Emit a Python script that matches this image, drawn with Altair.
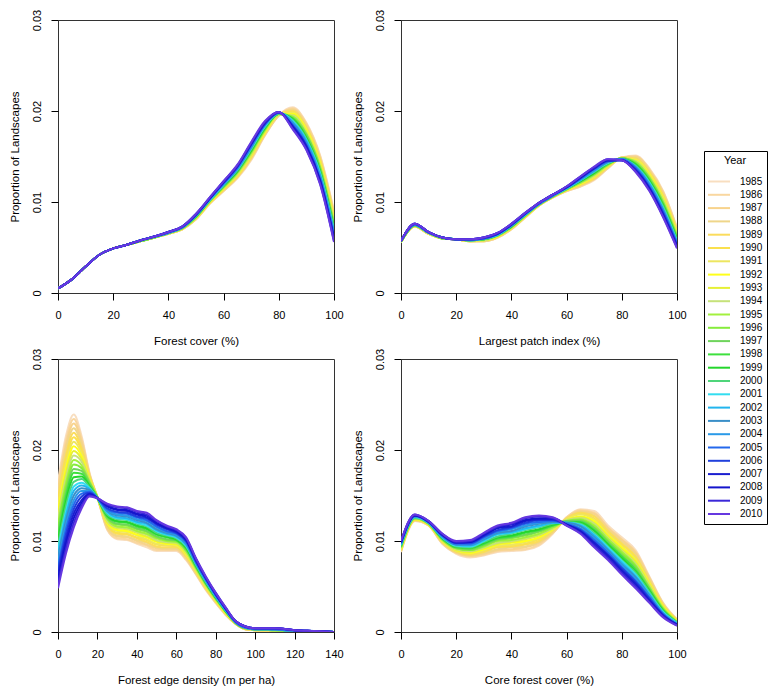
import altair as alt
import pandas as pd

YEARS = ["1985", "1986", "1987", "1988", "1989", "1990", "1991", "1992", "1993",
         "1994", "1995", "1996", "1997", "1998", "1999", "2000", "2001", "2002",
         "2003", "2004", "2005", "2006", "2007", "2008", "2009", "2010"]
COLORS = ["#F8DEC0", "#F9D7A0", "#F8D38C", "#EFD68A", "#FBDC5C", "#FAE04E",
          "#EDE660", "#FFFF1A", "#E6F035", "#C6E27A", "#A3F03E", "#86EC3C",
          "#6FD45C", "#3DE03D", "#24D62C", "#4FD57A", "#33DDF0", "#22B5EE",
          "#3A8FC8", "#2A9AE8", "#2468EC", "#2040DC", "#1A1ED0", "#1414CC",
          "#3A28D8", "#6638E0"]
Y_TICKS = [0, 0.01, 0.02, 0.03]
X_TICKS_100 = [0, 20, 40, 60, 80, 100]
X_TICKS_140 = [0, 20, 40, 60, 80, 100, 120, 140]

# density values in units of 1e-4, one list per x position, one value per year (1985..2010)
FOREST_COVER = {
    0: [5, 5, 5, 5, 5, 5, 5, 5, 5, 5, 5, 5, 5, 5, 5, 5, 5, 5, 5, 5, 5, 5, 5, 5, 5, 5],
    5: [15, 15, 15, 15, 15, 15, 15, 15, 15, 15, 15, 15, 15, 15, 15, 15, 15, 15, 15, 15, 15, 15, 15, 15, 15, 15],
    10: [29, 29, 29, 29, 29, 29, 29, 29, 29, 29, 29, 29, 29, 29, 29, 29, 29, 29, 29, 29, 29, 29, 29, 29, 29, 29],
    15: [42, 42, 42, 42, 42, 42, 42, 42, 42, 42, 42, 42, 42, 42, 42, 42, 42, 42, 42, 42, 42, 42, 42, 42, 42, 42],
    20: [49, 49, 49, 49, 49, 49, 49, 49, 49, 49, 49, 49, 49, 49, 49, 49, 49, 49, 49, 49, 49, 49, 49, 49, 49, 49],
    25: [53, 53, 53, 53, 53, 53, 53, 53, 53, 53, 53, 53, 53, 53, 53, 53, 53, 53, 53, 53, 53, 53, 53, 53, 53, 53],
    30: [57, 57, 57, 57, 57, 57, 57, 57, 57, 57, 57, 57, 57, 58, 58, 58, 58, 58, 58, 58, 58, 58, 58, 58, 58, 58],
    35: [61, 61, 61, 61, 61, 61, 61, 61, 61, 61, 61, 61, 61, 62, 62, 62, 62, 62, 62, 62, 62, 62, 62, 62, 62, 62],
    40: [65, 65, 65, 65, 65, 65, 65, 66, 66, 66, 66, 66, 66, 66, 66, 66, 66, 66, 66, 67, 67, 67, 67, 67, 67, 67],
    45: [70, 70, 70, 70, 70, 71, 71, 71, 71, 71, 71, 71, 71, 72, 72, 72, 72, 72, 72, 72, 72, 73, 73, 73, 73, 73],
    50: [81, 81, 81, 82, 82, 82, 82, 83, 83, 83, 83, 84, 84, 84, 84, 85, 85, 85, 85, 86, 86, 86, 86, 87, 87, 87],
    55: [98, 98, 99, 99, 99, 99, 100, 100, 100, 101, 101, 101, 101, 102, 102, 102, 102, 103, 103, 103, 104, 104, 104, 104, 105, 105],
    60: [112, 112, 113, 113, 114, 114, 115, 115, 116, 116, 116, 117, 117, 118, 118, 119, 119, 119, 120, 120, 121, 121, 122, 122, 123, 123],
    65: [126, 127, 127, 128, 128, 129, 130, 130, 131, 131, 132, 133, 133, 134, 134, 135, 136, 136, 137, 137, 138, 139, 139, 140, 140, 141],
    70: [146, 147, 148, 148, 149, 150, 151, 152, 152, 153, 154, 155, 156, 156, 157, 158, 159, 160, 160, 161, 162, 163, 164, 164, 165, 166],
    75: [173, 174, 174, 175, 176, 176, 177, 177, 178, 179, 179, 180, 181, 181, 182, 183, 183, 184, 185, 185, 186, 186, 187, 188, 188, 189],
    80: [195, 195, 195, 195, 196, 196, 196, 196, 196, 196, 197, 197, 197, 197, 197, 197, 198, 198, 198, 198, 198, 198, 199, 199, 199, 199],
    85: [204, 203, 202, 201, 200, 199, 198, 197, 196, 195, 194, 193, 192, 192, 191, 190, 189, 188, 187, 186, 185, 184, 183, 182, 181, 180],
    90: [187, 186, 185, 183, 182, 181, 180, 179, 177, 176, 175, 174, 173, 171, 170, 169, 168, 167, 165, 164, 163, 162, 161, 159, 158, 157],
    95: [151, 150, 148, 147, 146, 145, 143, 142, 141, 139, 138, 137, 136, 134, 133, 132, 131, 129, 128, 127, 125, 124, 123, 122, 120, 119],
    100: [90, 89, 87, 86, 85, 83, 82, 80, 79, 78, 76, 75, 74, 72, 71, 70, 68, 67, 66, 64, 63, 61, 60, 59, 57, 56],
}

LARGEST_PATCH = {
    0: [56, 56, 56, 56, 56, 56, 56, 56, 56, 56, 56, 56, 56, 57, 57, 57, 57, 57, 57, 57, 57, 57, 57, 57, 57, 57],
    5: [73, 73, 73, 73, 73, 74, 74, 74, 74, 74, 74, 74, 74, 75, 75, 75, 75, 75, 75, 75, 75, 76, 76, 76, 76, 76],
    10: [65, 65, 65, 65, 65, 65, 65, 66, 66, 66, 66, 66, 66, 66, 66, 66, 66, 66, 66, 67, 67, 67, 67, 67, 67, 67],
    15: [60, 60, 60, 60, 60, 60, 60, 60, 60, 60, 60, 60, 60, 61, 61, 61, 61, 61, 61, 61, 61, 61, 61, 61, 61, 61],
    20: [59, 59, 59, 59, 59, 59, 59, 59, 59, 59, 59, 59, 59, 59, 59, 59, 59, 59, 59, 59, 59, 59, 59, 59, 59, 59],
    25: [57, 57, 57, 57, 57, 57, 57, 58, 58, 58, 58, 58, 58, 58, 58, 58, 58, 58, 58, 59, 59, 59, 59, 59, 59, 59],
    30: [57, 57, 57, 57, 58, 58, 58, 58, 58, 58, 59, 59, 59, 59, 59, 59, 60, 60, 60, 60, 60, 60, 61, 61, 61, 61],
    35: [61, 61, 61, 62, 62, 62, 62, 62, 63, 63, 63, 63, 63, 64, 64, 64, 64, 64, 65, 65, 65, 65, 65, 66, 66, 66],
    40: [70, 70, 70, 71, 71, 71, 71, 72, 72, 72, 72, 73, 73, 73, 73, 74, 74, 74, 74, 75, 75, 75, 75, 76, 76, 76],
    45: [83, 83, 83, 84, 84, 84, 84, 84, 85, 85, 85, 85, 85, 86, 86, 86, 86, 86, 87, 87, 87, 87, 87, 88, 88, 88],
    50: [96, 96, 96, 96, 96, 97, 97, 97, 97, 97, 97, 97, 97, 98, 98, 98, 98, 98, 98, 98, 98, 99, 99, 99, 99, 99],
    55: [105, 105, 105, 105, 105, 106, 106, 106, 106, 106, 106, 106, 106, 107, 107, 107, 107, 107, 107, 107, 107, 108, 108, 108, 108, 108],
    60: [112, 112, 112, 113, 113, 113, 113, 113, 114, 114, 114, 114, 114, 115, 115, 115, 115, 115, 116, 116, 116, 116, 116, 117, 117, 117],
    65: [117, 117, 118, 118, 119, 119, 120, 120, 121, 121, 121, 122, 122, 123, 123, 124, 124, 124, 125, 125, 126, 126, 127, 127, 128, 128],
    70: [124, 125, 125, 126, 126, 127, 128, 128, 129, 129, 130, 131, 131, 132, 132, 133, 134, 134, 135, 135, 136, 137, 137, 138, 138, 139],
    75: [137, 137, 138, 138, 139, 139, 139, 140, 140, 141, 141, 141, 142, 142, 143, 143, 143, 144, 144, 145, 145, 145, 146, 146, 147, 147],
    80: [149, 149, 149, 149, 149, 148, 148, 148, 148, 148, 148, 148, 148, 147, 147, 147, 147, 147, 147, 147, 147, 146, 146, 146, 146, 146],
    85: [151, 150, 150, 149, 148, 147, 147, 146, 145, 145, 144, 143, 142, 142, 141, 140, 139, 139, 138, 137, 137, 136, 135, 134, 134, 133],
    90: [137, 136, 135, 134, 133, 132, 131, 130, 129, 128, 127, 126, 125, 124, 123, 122, 121, 120, 119, 118, 117, 116, 115, 114, 113, 112],
    95: [112, 111, 110, 109, 107, 106, 105, 104, 103, 102, 100, 99, 98, 97, 96, 95, 93, 92, 91, 90, 89, 88, 86, 85, 84, 83],
    100: [72, 71, 70, 69, 68, 67, 66, 66, 65, 64, 63, 62, 61, 60, 59, 58, 57, 56, 55, 55, 54, 53, 52, 51, 50, 49],
}

EDGE_DENSITY = {
    0: [165, 160, 156, 151, 146, 142, 137, 132, 128, 123, 118, 114, 109, 104, 99, 95, 90, 85, 81, 76, 71, 67, 62, 57, 53, 48],
    4: [215, 210, 205, 200, 194, 189, 184, 179, 174, 169, 163, 158, 153, 148, 143, 138, 132, 127, 122, 117, 112, 107, 101, 96, 91, 86],
    8: [239, 234, 229, 224, 219, 214, 209, 204, 199, 194, 189, 184, 179, 175, 170, 165, 160, 155, 150, 145, 140, 135, 130, 125, 120, 115],
    12: [215, 212, 209, 206, 202, 199, 196, 193, 190, 187, 183, 180, 177, 174, 171, 168, 164, 161, 158, 155, 152, 149, 145, 142, 139, 136],
    16: [175, 174, 173, 172, 171, 170, 169, 168, 167, 166, 165, 164, 163, 161, 160, 159, 158, 157, 156, 155, 154, 153, 152, 151, 150, 149],
    20: [148, 148, 148, 148, 148, 148, 148, 148, 148, 148, 148, 148, 148, 147, 147, 147, 147, 147, 147, 147, 147, 147, 147, 147, 147, 147],
    25: [112, 113, 114, 115, 117, 118, 119, 120, 121, 122, 124, 125, 126, 127, 128, 129, 131, 132, 133, 134, 135, 136, 138, 139, 140, 141],
    30: [102, 103, 105, 106, 108, 109, 111, 112, 114, 115, 116, 118, 119, 121, 122, 124, 125, 126, 128, 129, 131, 132, 134, 135, 137, 138],
    35: [101, 102, 104, 105, 107, 108, 110, 111, 113, 114, 115, 117, 118, 120, 121, 123, 124, 125, 127, 128, 130, 131, 133, 134, 136, 137],
    40: [97, 98, 100, 101, 103, 104, 106, 107, 109, 110, 111, 113, 114, 116, 117, 119, 120, 121, 123, 124, 126, 127, 129, 130, 132, 133],
    45: [93, 95, 96, 98, 99, 101, 102, 104, 105, 107, 108, 110, 111, 113, 114, 116, 117, 119, 120, 122, 123, 125, 126, 128, 129, 131],
    50: [89, 90, 92, 93, 94, 96, 97, 99, 100, 101, 103, 104, 105, 107, 108, 109, 111, 112, 113, 115, 116, 118, 119, 120, 122, 123],
    55: [89, 90, 91, 92, 93, 95, 96, 97, 98, 99, 100, 101, 102, 104, 105, 106, 107, 108, 109, 110, 111, 113, 114, 115, 116, 117],
    60: [89, 90, 91, 92, 93, 94, 95, 96, 97, 98, 99, 100, 101, 101, 102, 103, 104, 105, 106, 107, 108, 109, 110, 111, 112, 113],
    65: [79, 80, 81, 82, 83, 84, 85, 86, 87, 88, 89, 90, 91, 92, 93, 94, 95, 96, 97, 98, 99, 100, 101, 102, 103, 104],
    70: [63, 64, 64, 65, 66, 67, 67, 68, 69, 69, 70, 71, 72, 72, 73, 74, 75, 75, 76, 77, 77, 78, 79, 80, 80, 81],
    75: [46, 47, 47, 48, 48, 49, 50, 50, 51, 51, 52, 53, 53, 54, 54, 55, 56, 56, 57, 57, 58, 59, 59, 60, 60, 61],
    80: [32, 32, 33, 33, 34, 34, 35, 35, 36, 36, 36, 37, 37, 38, 38, 39, 39, 39, 40, 40, 41, 41, 42, 42, 43, 43],
    85: [19, 19, 20, 20, 20, 21, 21, 21, 22, 22, 22, 23, 23, 23, 23, 24, 24, 24, 25, 25, 25, 26, 26, 26, 27, 27],
    90: [9, 9, 9, 9, 9, 10, 10, 10, 10, 10, 10, 10, 10, 11, 11, 11, 11, 11, 11, 11, 11, 12, 12, 12, 12, 12],
    95: [3, 3, 3, 3, 3, 4, 4, 4, 4, 4, 4, 4, 4, 5, 5, 5, 5, 5, 5, 5, 5, 6, 6, 6, 6, 6],
    100: [2, 2, 2, 2, 2, 2, 2, 3, 3, 3, 3, 3, 3, 3, 3, 3, 3, 3, 3, 4, 4, 4, 4, 4, 4, 4],
    110: [1, 1, 1, 1, 1, 2, 2, 2, 2, 2, 2, 2, 2, 3, 3, 3, 3, 3, 3, 3, 3, 4, 4, 4, 4, 4],
    120: [0, 0, 0, 0, 0, 0, 0, 1, 1, 1, 1, 1, 1, 1, 1, 1, 1, 1, 1, 2, 2, 2, 2, 2, 2, 2],
    130: [0, 0, 0, 0, 0, 0, 0, 0, 0, 0, 0, 0, 0, 1, 1, 1, 1, 1, 1, 1, 1, 1, 1, 1, 1, 1],
    140: [0, 0, 0, 0, 0, 0, 0, 0, 0, 0, 0, 0, 0, 0, 0, 0, 0, 0, 0, 0, 0, 0, 0, 0, 0, 0],
}

CORE_FOREST = {
    0: [88, 88, 89, 89, 90, 90, 91, 91, 92, 92, 93, 93, 94, 94, 95, 95, 96, 96, 97, 97, 98, 98, 99, 99, 100, 100],
    5: [122, 122, 123, 123, 123, 123, 124, 124, 124, 125, 125, 125, 125, 126, 126, 126, 126, 127, 127, 127, 128, 128, 128, 128, 129, 129],
    10: [117, 117, 117, 118, 118, 118, 118, 118, 119, 119, 119, 119, 119, 120, 120, 120, 120, 120, 121, 121, 121, 121, 121, 122, 122, 122],
    15: [97, 97, 98, 98, 99, 99, 100, 100, 101, 101, 101, 102, 102, 103, 103, 104, 104, 104, 105, 105, 106, 106, 107, 107, 108, 108],
    20: [86, 87, 87, 88, 88, 89, 89, 90, 90, 91, 92, 92, 93, 93, 94, 94, 95, 96, 96, 97, 97, 98, 98, 99, 99, 100],
    25: [82, 83, 84, 84, 85, 86, 87, 87, 88, 89, 90, 90, 91, 92, 93, 93, 94, 95, 96, 96, 97, 98, 99, 99, 100, 101],
    30: [84, 85, 86, 87, 88, 89, 90, 91, 92, 93, 94, 95, 96, 97, 98, 99, 100, 101, 102, 103, 104, 105, 106, 107, 108, 109],
    35: [88, 89, 90, 91, 93, 94, 95, 96, 97, 98, 100, 101, 102, 103, 104, 105, 107, 108, 109, 110, 111, 112, 114, 115, 116, 117],
    40: [89, 90, 91, 93, 94, 95, 96, 98, 99, 100, 101, 103, 104, 105, 106, 108, 109, 110, 111, 113, 114, 115, 116, 118, 119, 120],
    45: [90, 91, 93, 94, 96, 97, 99, 100, 102, 103, 104, 106, 107, 109, 110, 112, 113, 114, 116, 117, 119, 120, 122, 123, 125, 126],
    50: [95, 96, 98, 99, 100, 102, 103, 104, 106, 107, 108, 110, 111, 112, 113, 115, 116, 117, 119, 120, 121, 123, 124, 125, 127, 128],
    55: [108, 109, 109, 110, 111, 112, 112, 113, 114, 114, 115, 116, 117, 117, 118, 119, 120, 120, 121, 122, 122, 123, 124, 125, 125, 126],
    60: [126, 126, 125, 125, 125, 124, 124, 123, 123, 123, 122, 122, 122, 121, 121, 121, 120, 120, 120, 119, 119, 118, 118, 118, 117, 117],
    65: [135, 134, 133, 132, 131, 130, 129, 127, 126, 125, 124, 123, 122, 121, 120, 119, 118, 117, 116, 114, 113, 112, 111, 110, 109, 108],
    70: [133, 131, 130, 128, 127, 125, 123, 122, 120, 119, 117, 115, 114, 112, 111, 109, 107, 106, 104, 103, 101, 99, 98, 96, 95, 93],
    75: [117, 115, 114, 112, 111, 109, 108, 106, 105, 103, 102, 100, 99, 97, 96, 94, 93, 91, 90, 88, 87, 85, 84, 82, 81, 79],
    80: [104, 102, 101, 99, 97, 96, 94, 93, 91, 89, 88, 86, 84, 83, 81, 79, 78, 76, 74, 73, 71, 70, 68, 66, 65, 63],
    85: [90, 88, 87, 85, 83, 82, 80, 78, 77, 75, 73, 72, 70, 68, 66, 65, 63, 61, 60, 58, 56, 55, 53, 51, 50, 48],
    90: [61, 60, 59, 58, 56, 55, 54, 53, 52, 51, 49, 48, 47, 46, 45, 44, 42, 41, 40, 39, 38, 37, 35, 34, 33, 32],
    95: [32, 31, 31, 30, 29, 29, 28, 28, 27, 26, 26, 25, 24, 24, 23, 22, 22, 21, 20, 20, 19, 19, 18, 17, 17, 16],
    100: [14, 14, 13, 13, 13, 13, 12, 12, 12, 11, 11, 11, 11, 10, 10, 10, 10, 9, 9, 9, 8, 8, 8, 8, 7, 7],
}

FONT = "Liberation Sans"


def long_table(table):
    rows = []
    for x, vals in table.items():
        for year, v in zip(YEARS, vals):
            rows.append({"x": x, "year": year, "p": v / 10000.0, "yi": int(year)})
    df = pd.DataFrame(rows)
    return df.sort_values(["yi", "x"]).reset_index(drop=True)


LEGEND = alt.Legend(
    orient="none", legendX=646, legendY=131,
    title="Year", titleFont=FONT, titleFontSize=11, titleFontWeight="normal",
    titleColor="black", titleAnchor="middle", titlePadding=9.5,
    labelFont=FONT, labelFontSize=10, labelColor="black",
    symbolType="M-2.2,0H2.2", symbolSize=100, symbolStrokeWidth=2,
    symbolOffset=5, labelOffset=15, rowPadding=2.3, padding=4,
    strokeColor="black", fillColor="white", cornerRadius=0,
)


def panel(table, xmax, xticks, xtitle):
    return alt.Chart(long_table(table)).mark_line(
        strokeWidth=2, interpolate="monotone", clip=True
    ).encode(
        x=alt.X("x:Q", scale=alt.Scale(domain=[0, xmax], nice=False, zero=False),
                axis=alt.Axis(values=xticks, title=xtitle, format="d",
                              labelFlush=False, labelOverlap=False,
                              tickSize=7, labelPadding=9, titlePadding=15)),
        y=alt.Y("p:Q", scale=alt.Scale(domain=[0, 0.03], nice=False, zero=True),
                axis=alt.Axis(values=Y_TICKS, format="~g", title="Proportion of Landscapes",
                              labelAngle=270, labelAlign="center", labelBaseline="bottom",
                              labelPadding=9, titlePadding=11, titleAngle=270,
                              titleBaseline="bottom", labelFlush=False, labelOverlap=False,
                              tickSize=7)),
        color=alt.Color("year:N", scale=alt.Scale(domain=YEARS, range=COLORS), legend=LEGEND),
    ).properties(width=276, height=273)


p1 = panel(FOREST_COVER, 100, X_TICKS_100, "Forest cover (%)")
p2 = panel(LARGEST_PATCH, 100, X_TICKS_100, "Largest patch index (%)")
p3 = panel(EDGE_DENSITY, 140, X_TICKS_140, "Forest edge density (m per ha)")
p4 = panel(CORE_FOREST, 100, X_TICKS_100, "Core forest cover (%)")

chart = alt.vconcat(
    alt.hconcat(p1, p2, spacing=7),
    alt.hconcat(p3, p4, spacing=7),
    spacing=0,
    padding=0,
    background="white",
).configure_view(
    stroke="#333333", strokeWidth=1
).configure_axis(
    grid=False, domain=False, tickColor="black", labelColor="black", titleColor="black",
    labelFont=FONT, titleFont=FONT, labelFontSize=11, titleFontSize=11.5,
    titleFontWeight="normal", tickWidth=1
)

chart.save("out.html", embed_options={"renderer": "svg", "actions": False})
